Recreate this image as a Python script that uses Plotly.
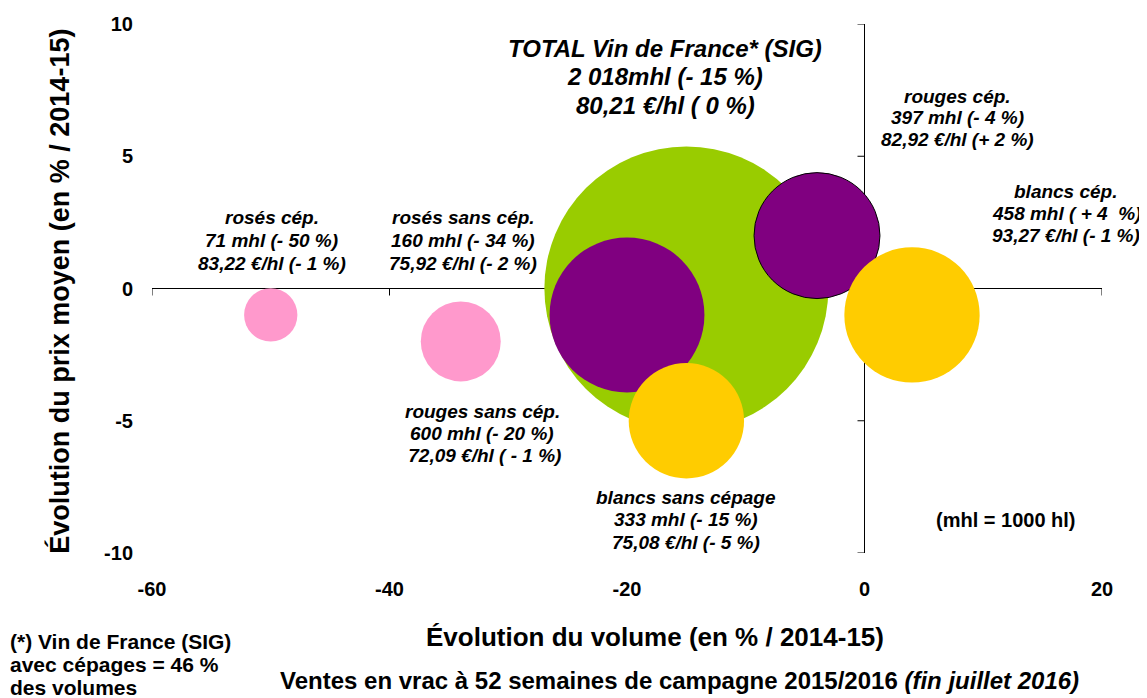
import plotly.graph_objects as go

# ---- data ----
categories = ["TOTAL Vin de France* (SIG)", "rosés cép.", "rosés sans cép.",
              "rouges sans cép.", "blancs sans cépage", "rouges cép.", "blancs cép."]
volume_change = [-15, -50, -34, -20, -15, -4, 4]      # % / 2014-15
price_change = [0, -1, -2, -1, -5, 2, -1]             # % / 2014-15
volume_mhl = [2018, 71, 160, 600, 333, 397, 458]
colors = ["#99CC00", "#FF99CC", "#FF99CC", "#800080", "#FFCC00", "#800080", "#FFCC00"]
outline = [0, 0, 0, 0, 0, 1, 0]

label_lines = [
    ["TOTAL Vin de France* (SIG)", "2 018mhl (- 15 %)", "80,21 €/hl ( 0 %)"],
    ["rosés cép.", "71 mhl (- 50 %)", "83,22 €/hl (- 1 %)"],
    ["rosés sans cép.", "160 mhl (- 34 %)", "75,92 €/hl (- 2 %)"],
    ["rouges sans cép.", "600 mhl (- 20 %)", " 72,09 €/hl ( - 1 %)"],
    ["blancs sans cépage", "333 mhl (- 15 %)", "75,08 €/hl (- 5 %)"],
    ["rouges cép.", "397 mhl (- 4 %)", "82,92 €/hl (+ 2 %)"],
    ["blancs cép.", "458 mhl ( + 4  %)", "93,27 €/hl (- 1 %)"],
]
# label anchor (centre of the middle line) positions, layout choices in data units
label_x = [-16.8, -49.9, -33.8, -32.2, -15.05, 7.84, 17.0]
label_y = [8.0, 1.80, 1.80, -5.50, -8.75, 6.45, 2.85]
label_size = [24, 19, 19, 19, 19, 19, 19]
label_gap = [28.5, 23, 23, 22, 22.5, 21.5, 22]

x_ticks = [-60, -40, -20, 0, 20]
y_ticks = [-10, -5, 0, 5, 10]
x_ticktext = [str(t) for t in x_ticks]
y_ticktext = [str(t) for t in y_ticks]

FONT = "Liberation Sans, Arial, sans-serif"
MAX_DIAM = 284

fig = go.Figure()
fig.add_trace(go.Scatter(
    x=volume_change, y=price_change, mode="markers",
    text=categories, hoverinfo="text",
    marker=dict(size=volume_mhl, sizemode="area",
                sizeref=2 * max(volume_mhl) / MAX_DIAM ** 2,
                color=colors, opacity=1,
                line=dict(color="black", width=outline)),
    showlegend=False,
))

for lines, lx, ly, fs, gap in zip(label_lines, label_x, label_y, label_size, label_gap):
    for i, line in enumerate(lines):
        fig.add_annotation(
            x=lx, y=ly, xref="x", yref="y", text=line, yshift=(1 - i) * gap,
            showarrow=False, xanchor="center", yanchor="middle",
            font=dict(family=FONT, size=fs, color="black", weight="bold", style="italic"),
        )

fig.add_annotation(x=11.9, y=-8.75, xref="x", yref="y", text="(mhl = 1000 hl)",
                   showarrow=False, xanchor="center", yanchor="middle",
                   font=dict(family=FONT, size=20, color="black", weight="bold"))

# footnote
foot = ["(*) Vin de France (SIG)", "avec cépages = 46 %", "des volumes"]
for i, line in enumerate(foot):
    fig.add_annotation(x=-0.1515, y=0.0, xref="paper", yref="paper",
                       xanchor="left", yanchor="middle", yshift=-88 - 23 * i,
                       text=line, showarrow=False,
                       font=dict(family=FONT, size=21, color="black", weight="bold"))

# axis titles
fig.add_annotation(x=0.529, y=0.0, xref="paper", yref="paper",
                   xanchor="center", yanchor="middle", yshift=-84,
                   text="Évolution du volume (en % / 2014-15)", showarrow=False,
                   font=dict(family=FONT, size=26, color="black", weight="bold"))
fig.add_annotation(x=-0.0968, y=0.494, xref="paper", yref="paper",
                   xanchor="center", yanchor="middle", textangle=-90,
                   text="Évolution du prix moyen (en % / 2014-15)", showarrow=False,
                   font=dict(family=FONT, size=27, color="black", weight="bold"))
fig.add_annotation(x=0.555, y=0.0, xref="paper", yref="paper",
                   xanchor="center", yanchor="middle", yshift=-127,
                   text="Ventes en vrac à 52 semaines de campagne 2015/2016 <i>(fin juillet 2016)</i>",
                   showarrow=False,
                   font=dict(family=FONT, size=24, color="black", weight="bold"))

# tick marks on the crossing axis lines (below the bubbles)
for t in x_ticks:
    fig.add_shape(type="line", xref="x", yref="y", x0=t, x1=t,
                  ysizemode="pixel", yanchor=0, y0=0, y1=-7,
                  line=dict(color="black", width=1), layer="below")
for t in y_ticks:
    fig.add_shape(type="line", xref="x", yref="y", y0=t, y1=t,
                  xsizemode="pixel", xanchor=0, x0=-7, x1=0,
                  line=dict(color="black", width=1), layer="below")

fig.update_layout(
    width=1147, height=698,
    margin=dict(l=144, r=53, t=16, b=153),
    paper_bgcolor="white", plot_bgcolor="white",
    font=dict(family=FONT, color="black"),
    xaxis=dict(range=[-60, 20], tickvals=x_ticks, ticktext=x_ticktext, ticks="",
               showgrid=False, showline=False, zeroline=True, automargin=False,
               zerolinecolor="black", zerolinewidth=1,
               tickfont=dict(family=FONT, size=20, weight="bold"),
               ticklabelstandoff=22),
    yaxis=dict(range=[-10, 10], tickvals=y_ticks, ticktext=y_ticktext, ticks="",
               showgrid=False, showline=False, zeroline=True, automargin=False,
               zerolinecolor="black", zerolinewidth=1,
               tickfont=dict(family=FONT, size=20, weight="bold"),
               ticklabelstandoff=18),
)

fig.write_html("out.html")
